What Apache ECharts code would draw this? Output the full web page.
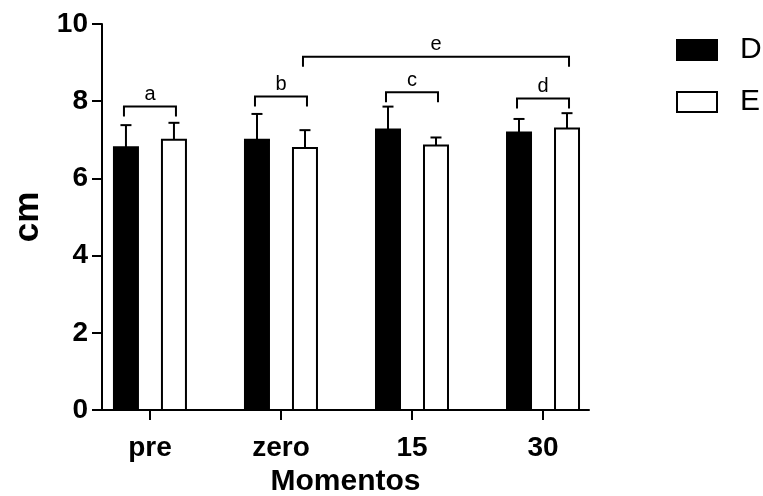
<!DOCTYPE html>
<html>
<head>
<meta charset="utf-8">
<script src="https://cdn.jsdelivr.net/npm/echarts@6/dist/echarts.min.js"></script>
<style>
  html, body { margin: 0; padding: 0; background: #fff; }
  #chart { width: 763px; height: 496px; }
</style>
</head>
<body>
<div id="chart"></div>
<script>
// Moments of measurement
const categories = ['pre', 'zero', '15', '30'];

// Group D: mean and standard deviation (cm)
const meanD = [6.81, 7.00, 7.27, 7.19];
const sdD   = [0.57, 0.67, 0.59, 0.35];

// Group E: mean and standard deviation (cm)
const meanE = [7.00, 6.79, 6.85, 7.29];
const sdE   = [0.44, 0.46, 0.21, 0.40];

// Comparison brackets: label, start moment/group, end moment/group, height (cm)
const bracketLabels = ['a', 'b', 'c', 'd', 'e'];
const bracketStart  = [0, 1, 2, 3, 1];
const bracketStartGroup = ['D', 'D', 'D', 'D', 'E'];
const bracketEnd    = [0, 1, 2, 3, 3];
const bracketEndGroup = ['E', 'E', 'E', 'E', 'E'];
const bracketHeight = [7.86, 8.12, 8.23, 8.07, 9.15];

// Y axis ticks
const yMin = 0, yMax = 10, yStep = 2;

const FONT = '"Liberation Sans", Arial, sans-serif';
const BAR_W = 24;       // px
const GROUP_SHIFT = 24; // px, distance from category centre to each bar centre
const CAP = 11;         // px, error bar cap width
const LEG = 10;         // px, bracket leg length

const groupShift = { D: -GROUP_SHIFT, E: GROUP_SHIFT };

function barRenderer(group, fill) {
  return function (params, api) {
    const i = api.value(0), v = api.value(1), sd = api.value(2);
    const base = api.coord([i, 0]);
    const top = api.coord([i, v]);
    const err = api.coord([i, v + sd]);
    const cx = base[0] + groupShift[group];
    return {
      type: 'group',
      children: [
        { type: 'line', shape: { x1: cx, y1: top[1], x2: cx, y2: err[1] },
          style: { stroke: '#000', lineWidth: 2 } },
        { type: 'line', shape: { x1: cx - CAP / 2, y1: err[1], x2: cx + CAP / 2, y2: err[1] },
          style: { stroke: '#000', lineWidth: 2 } },
        { type: 'rect', shape: { x: cx - BAR_W / 2, y: top[1], width: BAR_W, height: base[1] - top[1] },
          style: { fill: fill, stroke: '#000', lineWidth: 2 } }
      ]
    };
  };
}

function bracketRenderer(params, api) {
  const k = params.dataIndex;
  const a = api.coord([api.value(0), api.value(2)]);
  const b = api.coord([api.value(1), api.value(2)]);
  const x1 = a[0] + groupShift[bracketStartGroup[k]] - 2;
  const x2 = b[0] + groupShift[bracketEndGroup[k]] + 2;
  const y = a[1];
  return {
    type: 'group',
    children: [
      { type: 'polyline', shape: { points: [[x1, y + LEG], [x1, y], [x2, y], [x2, y + LEG]] },
        style: { stroke: '#000', lineWidth: 2, fill: null } },
      { type: 'text', style: { text: bracketLabels[k], x: (x1 + x2) / 2, y: y - 2,
          align: 'center', verticalAlign: 'bottom', fontSize: 20, fontFamily: FONT, fill: '#000' } }
    ]
  };
}

const chart = echarts.init(document.getElementById('chart'), null, { renderer: 'canvas' });

chart.setOption({
  animation: false,
  backgroundColor: '#fff',
  grid: { left: 102, right: 174, top: 24, bottom: 86, containLabel: false, outerBoundsMode: 'none' },
  legend: {
    orient: 'vertical',
    left: 671,
    top: 30,
    padding: 5,
    itemWidth: 40,
    itemHeight: 20,
    itemGap: 22,
    icon: 'rect',
    textStyle: { fontFamily: FONT, fontSize: 30, color: '#000', padding: [0, 0, 0, 18] },
    data: [
      { name: 'D', itemStyle: { color: '#000', borderColor: '#000', borderWidth: 2 } },
      { name: 'E', itemStyle: { color: '#fff', borderColor: '#000', borderWidth: 2 } }
    ]
  },
  xAxis: {
    type: 'value',
    min: -0.366,
    max: 3.351,
    name: 'Momentos',
    nameLocation: 'middle',
    nameGap: 55,
    nameTextStyle: { fontFamily: FONT, fontSize: 30, fontWeight: 'bold', color: '#000' },
    splitLine: { show: false },
    axisLine: { show: true, onZero: false, lineStyle: { color: '#000', width: 2 } },
    axisTick: { show: true, length: 10, inside: false, customValues: [0, 1, 2, 3],
      lineStyle: { color: '#000', width: 2 } },
    axisLabel: {
      customValues: [0, 1, 2, 3],
      margin: 24,
      formatter: function (v) { return categories[Math.round(v)]; },
      fontFamily: FONT, fontSize: 28, fontWeight: 'bold', color: '#000'
    }
  },
  yAxis: {
    type: 'value',
    min: yMin,
    max: yMax,
    interval: yStep,
    name: 'cm',
    nameLocation: 'middle',
    nameGap: 56,
    nameRotate: 90,
    nameTextStyle: { fontFamily: FONT, fontSize: 35, fontWeight: 'bold', color: '#000' },
    splitLine: { show: false },
    axisLine: { show: true, onZero: false, lineStyle: { color: '#000', width: 2 } },
    axisTick: { show: true, length: 10, inside: false, lineStyle: { color: '#000', width: 2 } },
    axisLabel: { margin: 14, fontFamily: FONT, fontSize: 28, fontWeight: 'bold', color: '#000' }
  },
  series: [
    {
      name: 'D',
      type: 'custom',
      renderItem: barRenderer('D', '#000'),
      itemStyle: { color: '#000', borderColor: '#000', borderWidth: 2 },
      encode: { x: 0, y: 1 },
      data: categories.map((c, i) => [i, meanD[i], sdD[i]])
    },
    {
      name: 'E',
      type: 'custom',
      renderItem: barRenderer('E', '#fff'),
      itemStyle: { color: '#fff', borderColor: '#000', borderWidth: 2 },
      encode: { x: 0, y: 1 },
      data: categories.map((c, i) => [i, meanE[i], sdE[i]])
    },
    {
      name: 'brackets',
      type: 'custom',
      renderItem: bracketRenderer,
      encode: { x: [0, 1], y: 2 },
      data: bracketLabels.map((l, k) => [bracketStart[k], bracketEnd[k], bracketHeight[k]])
    }
  ]
});
</script>
</body>
</html>
